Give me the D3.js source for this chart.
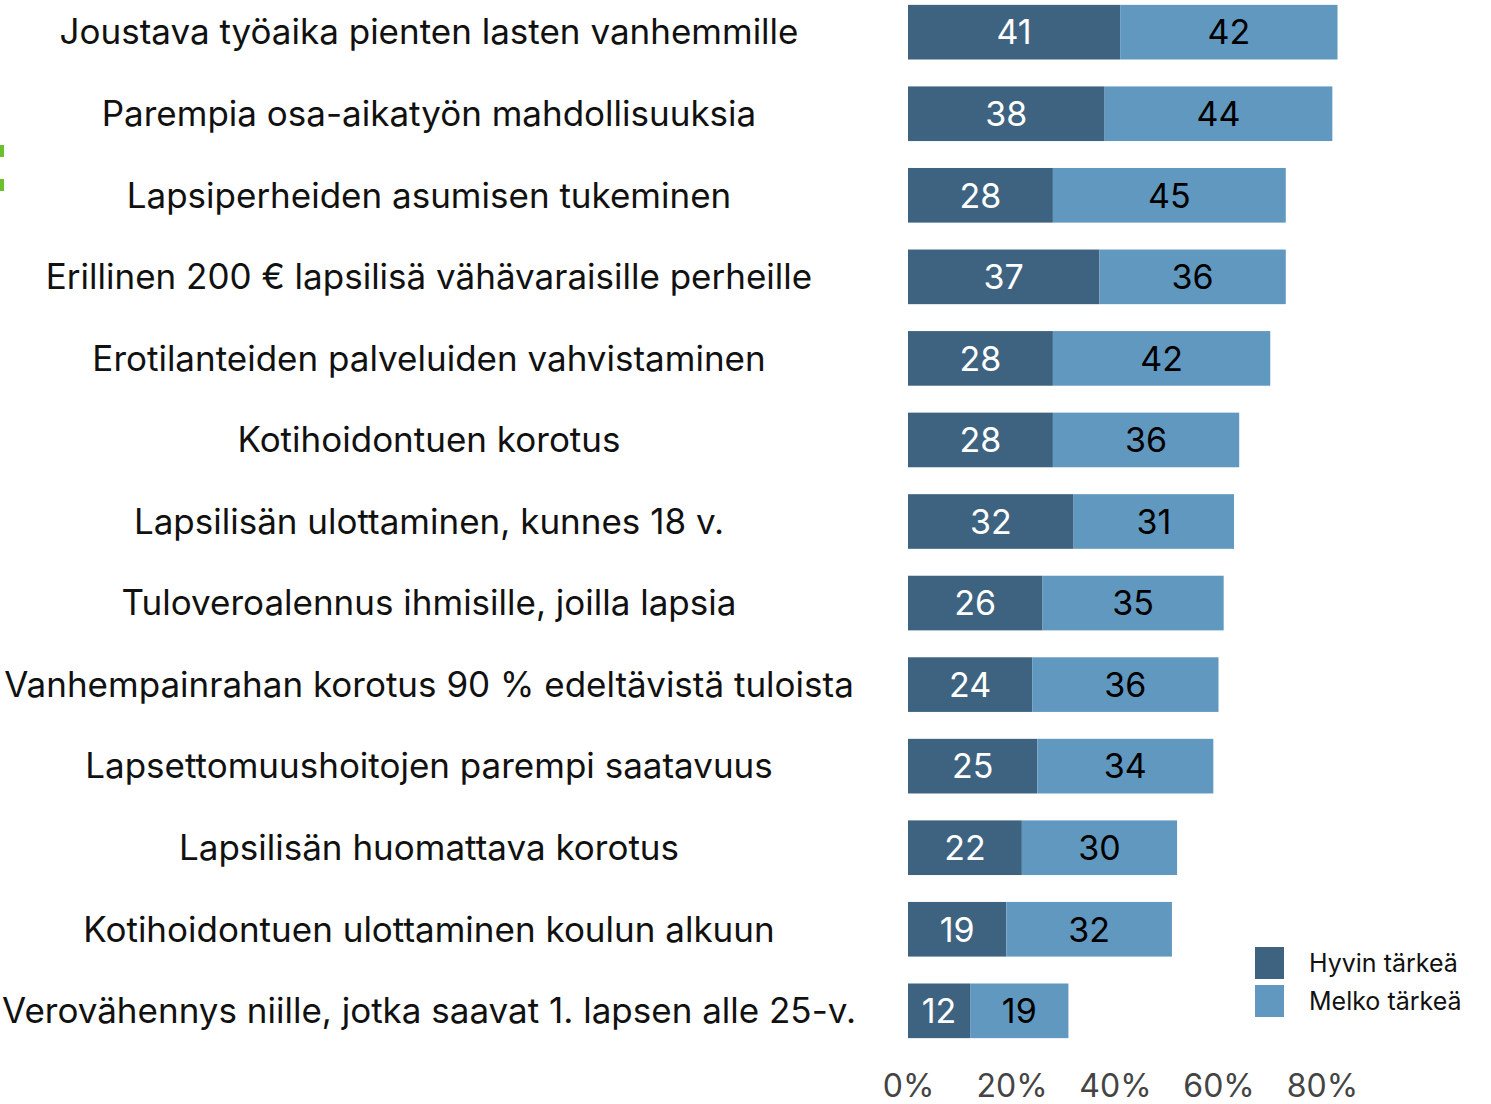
<!DOCTYPE html>
<html>
<head>
<meta charset="utf-8">
<script src="https://d3js.org/d3.v7.min.js"></script>
<style>
body { margin: 0; background: #fff; }
svg text { font-family: "Inter", "Noto Sans", sans-serif; }
</style>
</head>
<body>
<svg id="chart" width="1491" height="1104"></svg>
<script>
// data
var categories = [
  "Joustava työaika pienten lasten vanhemmille",
  "Parempia osa-aikatyön mahdollisuuksia",
  "Lapsiperheiden asumisen tukeminen",
  "Erillinen 200 € lapsilisä vähävaraisille perheille",
  "Erotilanteiden palveluiden vahvistaminen",
  "Kotihoidontuen korotus",
  "Lapsilisän ulottaminen, kunnes 18 v.",
  "Tuloveroalennus ihmisille, joilla lapsia",
  "Vanhempainrahan korotus 90 % edeltävistä tuloista",
  "Lapsettomuushoitojen parempi saatavuus",
  "Lapsilisän huomattava korotus",
  "Kotihoidontuen ulottaminen koulun alkuun",
  "Verovähennys niille, jotka saavat 1. lapsen alle 25-v."
];
var hyvin = [41, 38, 28, 37, 28, 28, 32, 26, 24, 25, 22, 19, 12];
var melko = [42, 44, 45, 36, 42, 36, 31, 35, 36, 34, 30, 32, 19];
var seriesNames = ["Hyvin tärkeä", "Melko tärkeä"];
var colors = ["#3e6380", "#6198bf"];
var xTicks = [0, 20, 40, 60, 80];

var svg = d3.select("svg");

var x = d3.scaleLinear().domain([0, 80]).range([908, 1322]);
var y = d3.scaleBand().domain(categories).range([-9, 1052]).paddingInner(0.33).paddingOuter(0.17);

var rows = categories.map(function (c, i) { return { cat: c, a: hyvin[i], b: melko[i] }; });

// green marks at left edge
svg.append("rect").attr("x", 0).attr("y", 145).attr("width", 4).attr("height", 12).attr("fill", "#6cbf2f");
svg.append("rect").attr("x", 0).attr("y", 179).attr("width", 4).attr("height", 12).attr("fill", "#6cbf2f");

var row = svg.selectAll("g.row").data(rows).enter().append("g").attr("class", "row");

row.append("text")
  .attr("x", 429)
  .attr("y", d => y(d.cat) + y.bandwidth() / 2)
  .attr("dy", "0.35em")
  .attr("text-anchor", "middle")
  .attr("font-size", 35)
  .attr("fill", "#111")
  .text(d => d.cat);

row.append("rect")
  .attr("x", x(0))
  .attr("y", d => y(d.cat))
  .attr("width", d => x(d.a) - x(0))
  .attr("height", y.bandwidth())
  .attr("fill", colors[0]);

row.append("rect")
  .attr("x", d => x(d.a))
  .attr("y", d => y(d.cat))
  .attr("width", d => x(d.a + d.b) - x(d.a))
  .attr("height", y.bandwidth())
  .attr("fill", colors[1]);

row.append("text")
  .attr("x", d => (x(0) + x(d.a)) / 2)
  .attr("y", d => y(d.cat) + y.bandwidth() / 2)
  .attr("dy", "0.36em")
  .attr("text-anchor", "middle")
  .attr("font-size", 34)
  .attr("fill", "#fff")
  .text(d => d.a);

row.append("text")
  .attr("x", d => (x(d.a) + x(d.a + d.b)) / 2)
  .attr("y", d => y(d.cat) + y.bandwidth() / 2)
  .attr("dy", "0.36em")
  .attr("text-anchor", "middle")
  .attr("font-size", 34)
  .attr("fill", "#000")
  .text(d => d.b);

// x axis labels
var xAxis = d3.axisBottom(x).tickValues(xTicks).tickSize(0).tickPadding(0).tickFormat(d => d + "%");
var xAxisG = svg.append("g").attr("transform", "translate(0,1086)").call(xAxis);
xAxisG.select(".domain").remove();
xAxisG.selectAll("text")
  .attr("font-size", 32)
  .attr("fill", "#444")
  .attr("dy", "0.35em")
  .style("font-family", "Inter, 'Noto Sans', sans-serif");

// legend
var legend = svg.append("g").attr("transform", "translate(1255,947)");
seriesNames.forEach(function (name, i) {
  legend.append("rect").attr("x", 0).attr("y", i * 38).attr("width", 29).attr("height", 32).attr("fill", colors[i]);
  legend.append("text").attr("x", 54).attr("y", i * 38 + 16).attr("dy", "0.35em")
    .attr("font-size", 25).attr("fill", "#111").text(name);
});
</script>
</body>
</html>
